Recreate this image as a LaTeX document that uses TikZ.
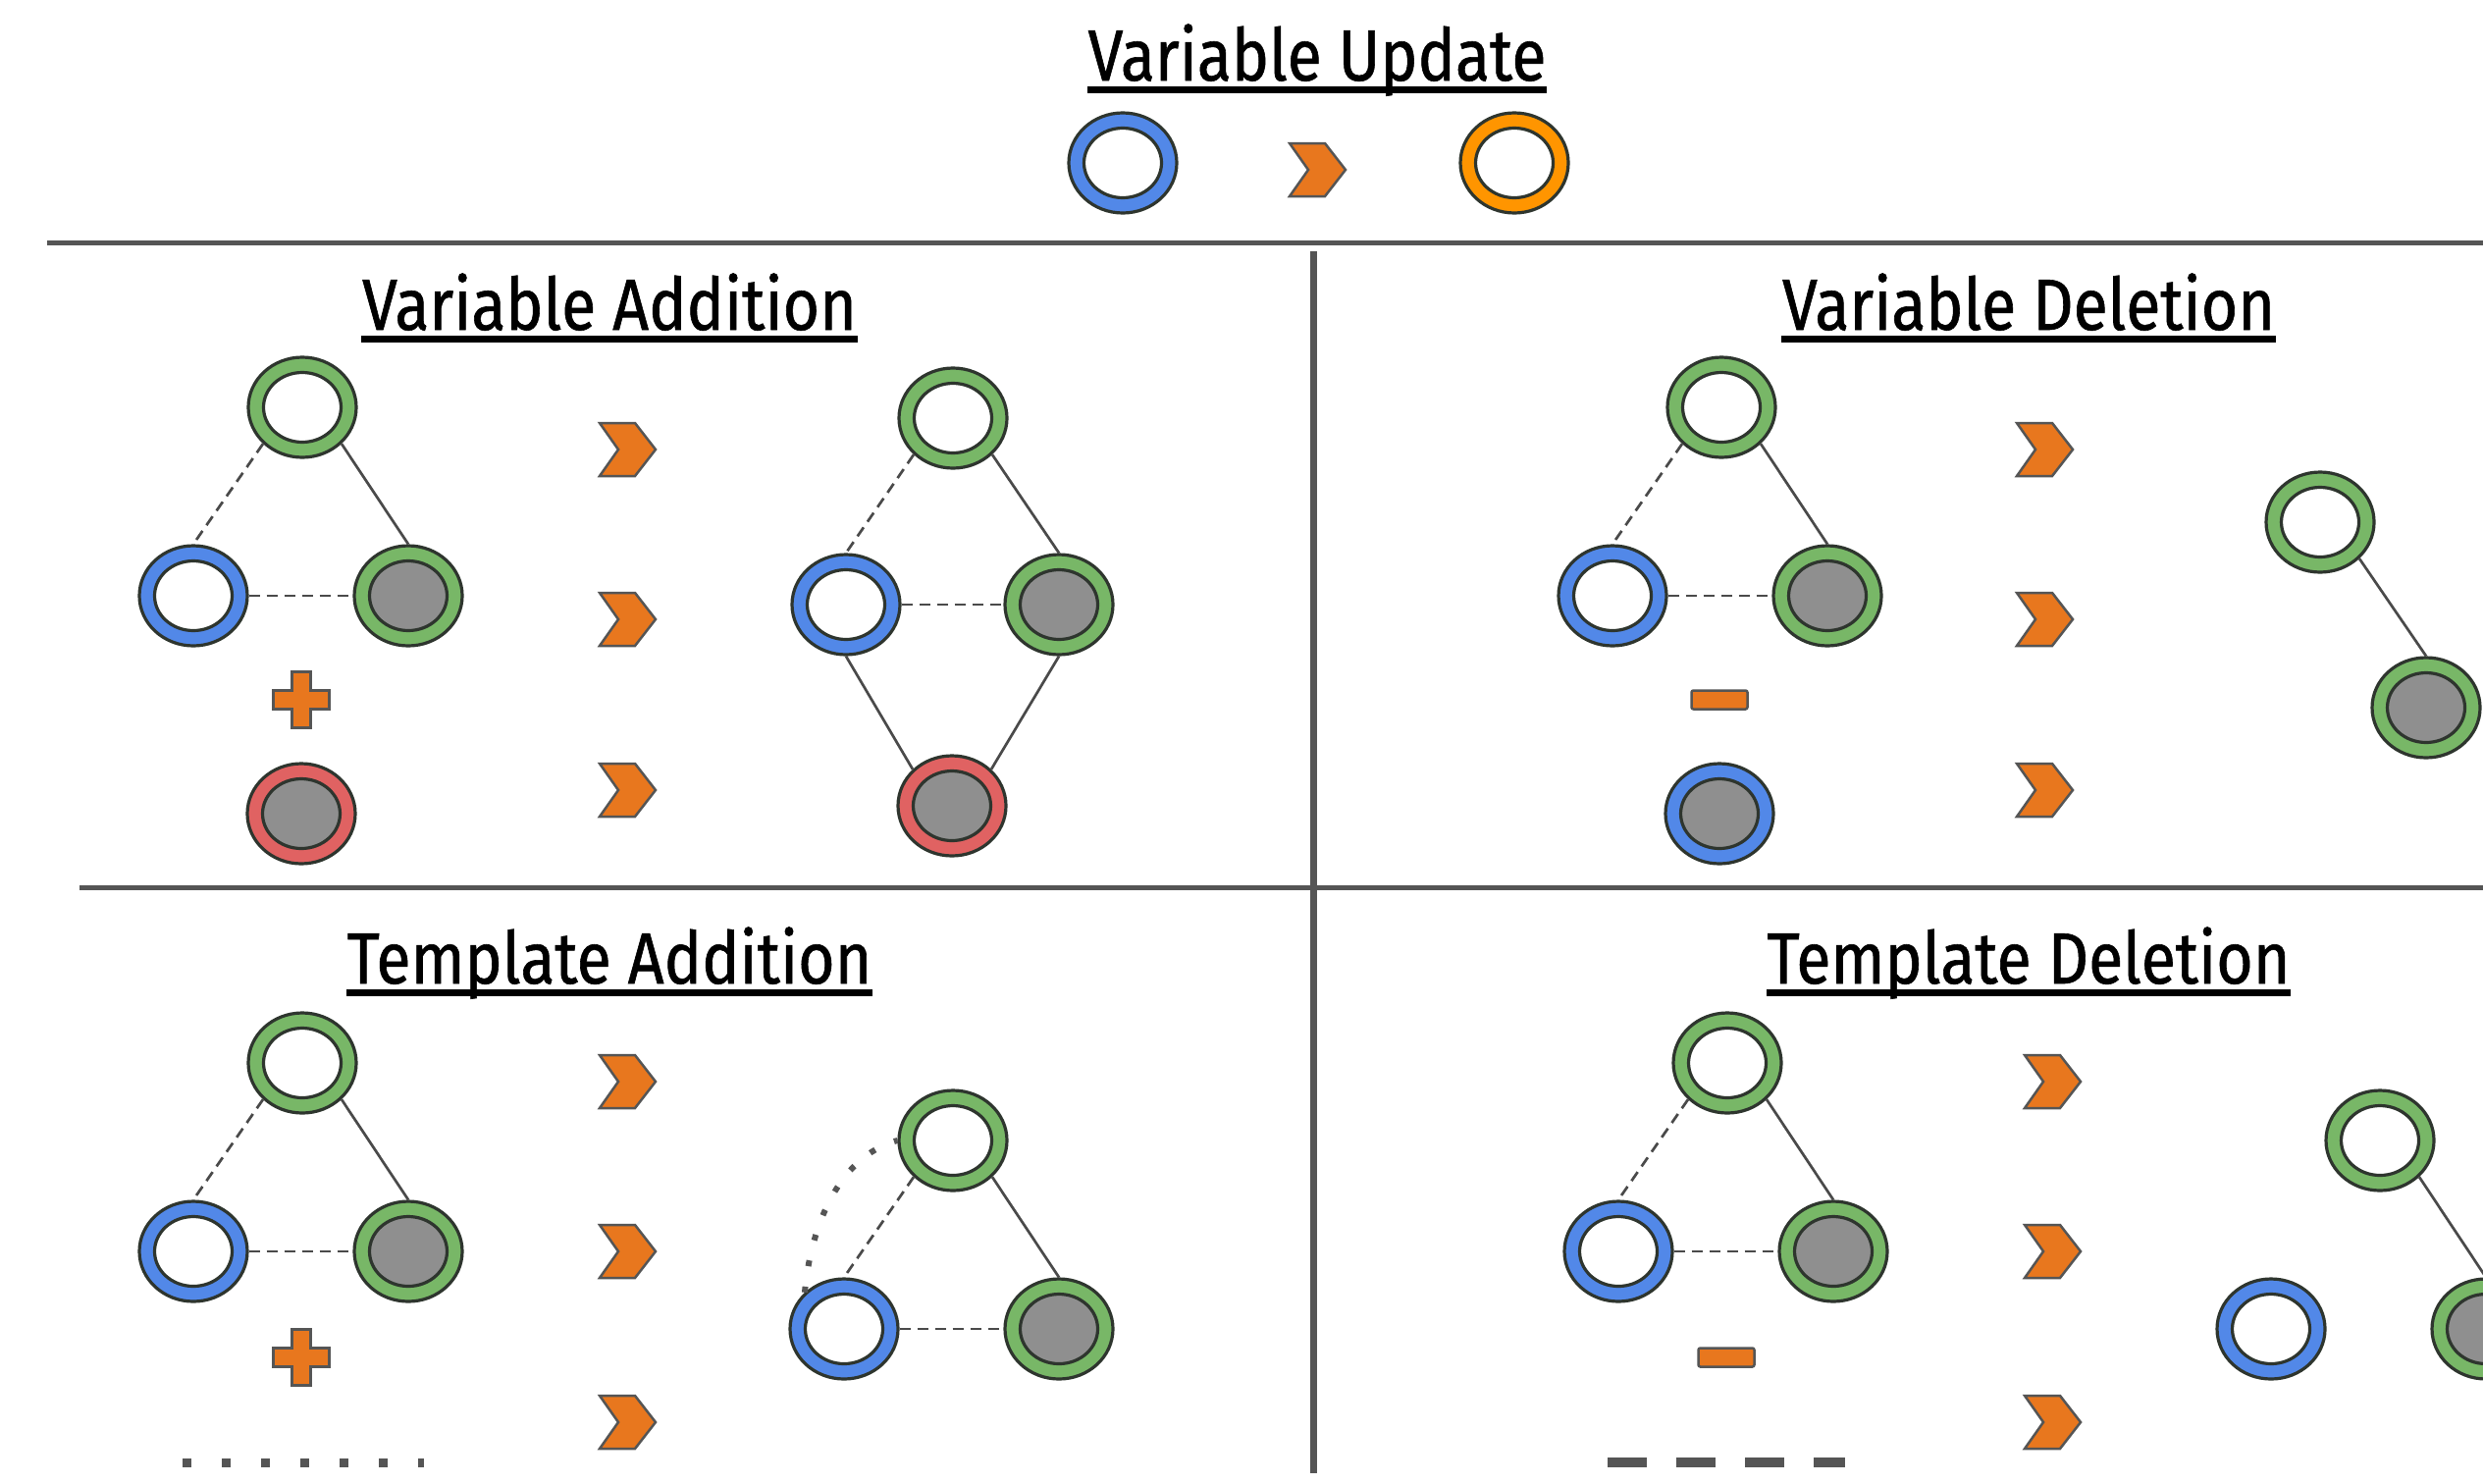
\documentclass[tikz,border=0pt]{standalone}
\usepackage{fontspec}
\setmainfont{Fira Sans}[FakeStretch=0.872, FakeBold=0.8]
\usetikzlibrary{shapes.geometric}
\definecolor{cblue}{HTML}{5288E8}
\definecolor{cgreen}{HTML}{78B767}
\definecolor{cred}{HTML}{E06262}
\definecolor{corange}{HTML}{FF9500}
\definecolor{cchev}{HTML}{E8771E}
\definecolor{cgrey}{HTML}{8F8F8F}
\definecolor{outl}{HTML}{2E352E}
\definecolor{outl2}{HTML}{555555}
\definecolor{lin}{HTML}{4A4A4A}
\definecolor{sepc}{HTML}{555555}
\begin{document}
\begin{tikzpicture}[x=0.1mm,y=0.1mm,
  innerfill/.store in=\ringinner, innerfill=white,
  ring/.style={ellipse, draw=outl, line width=0.32mm, fill=#1,
    minimum width=11mm, minimum height=10.2mm, inner sep=0pt,
    path picture={\draw[line width=0.32mm, draw=outl, fill=\ringinner]
      (path picture bounding box.center) ellipse [x radius=3.95mm, y radius=3.55mm];}},
  edge/.style={draw=lin, line width=0.27mm},
  edged/.style={edge, dash pattern=on 1.1mm off 0.7mm},
  sepline/.style={draw=sepc, line width=0.5mm},
  vsepline/.style={draw=sepc, line width=0.7mm},
  ttl/.style={inner sep=0pt, font=\fontsize{21}{25}\selectfont},
  uline/.style={draw=black, line width=0.65mm},
  chev/.pic={\draw[fill=cchev, draw=outl2, line width=0.25mm, line join=miter]
    (-28,27) -- (8,27) -- (29,0) -- (8,-27) -- (-28,-27) -- (-9,0) -- cycle;},
  plus/.pic={\draw[fill=cchev, draw=outl2, line width=0.25mm]
    (-9.5,28.5) -- (9.5,28.5) -- (9.5,9.5) -- (28.5,9.5) -- (28.5,-9.5) -- (9.5,-9.5)
    -- (9.5,-28.5) -- (-9.5,-28.5) -- (-9.5,-9.5) -- (-28.5,-9.5) -- (-28.5,9.5) -- (-9.5,9.5) -- cycle;},
  minus/.pic={\draw[fill=cchev, draw=outl2, line width=0.25mm, rounded corners=0.2mm]
    (-28.5,-9.5) rectangle (28.5,9.5);}
]
\useasboundingbox (0,0) rectangle (2530,-1511);
\clip (0,0) rectangle (2530,-1511);
\fill[white] (0,0) rectangle (2530,-1511);

% ---------- header ----------
\node[ttl, anchor=base] (t0) at (1342,-82) {Variable Update};
\draw[uline] ([yshift=-0.95mm]t0.base west) -- ([yshift=-0.95mm]t0.base east);
\node[ring=cblue] (u1) at (1144,-166) {};
\pic at (1342,-173) {chev};
\node[ring=corange] (u2) at (1543,-166) {};

% ---------- separators ----------
\coordinate (h1a) at (48,-247);   \coordinate (h1b) at (2530,-247);
\coordinate (h2a) at (81,-904);   \coordinate (h2b) at (2530,-904);
\coordinate (v1a) at (1338,-256); \coordinate (v1b) at (1338,-1501);
\draw[sepline] (h1a) -- (h1b);
\draw[sepline] (h2a) -- (h2b);
\draw[vsepline] (v1a) -- (v1b);

% ---------- titles ----------
\node[ttl, anchor=base] (t1) at (621,-336) {Variable Addition};
\draw[uline] ([yshift=-0.95mm]t1.base west) -- ([yshift=-0.95mm]t1.base east);
\node[ttl, anchor=base] (t2) at (2067,-336) {Variable Deletion};
\draw[uline] ([yshift=-0.95mm]t2.base west) -- ([yshift=-0.95mm]t2.base east);
\node[ttl, anchor=base] (t3) at (621,-1002) {Template Addition};
\draw[uline] ([yshift=-0.95mm]t3.base west) -- ([yshift=-0.95mm]t3.base east);
\node[ttl, anchor=base] (t4) at (2067,-1002) {Template Deletion};
\draw[uline] ([yshift=-0.95mm]t4.base west) -- ([yshift=-0.95mm]t4.base east);

% ---------- Variable Addition ----------
\node[ring=cgreen] (va1) at (308,-415) {};
\node[ring=cblue] (va2) at (197,-607) {};
\node[ring=cgreen, innerfill=cgrey] (va3) at (416,-607) {};
\pic at (307,-713) {plus};
\node[ring=cred, innerfill=cgrey] (va4) at (307,-829) {};
\draw[edged] (va1.south west) -- (va2.north);
\draw[edge] (va1.south east) -- (va3.north);
\draw[edged] (va2.east) -- (va3.west);
\foreach \yy in {458,631,805} \pic at (639,-\yy) {chev};
\node[ring=cgreen] (vb1) at (971,-426) {};
\node[ring=cblue] (vb2) at (862,-616) {};
\node[ring=cgreen, innerfill=cgrey] (vb3) at (1079,-616) {};
\node[ring=cred, innerfill=cgrey] (vb4) at (970,-821) {};
\draw[edged] (vb1.south west) -- (vb2.north);
\draw[edge] (vb1.south east) -- (vb3.north);
\draw[edged] (vb2.east) -- (vb3.west);
\draw[edge] (vb2.south) -- (vb4.north west);
\draw[edge] (vb3.south) -- (vb4.north east);

% ---------- Variable Deletion ----------
\node[ring=cgreen] (vc1) at (1754,-415) {};
\node[ring=cblue] (vc2) at (1643,-607) {};
\node[ring=cgreen, innerfill=cgrey] (vc3) at (1862,-607) {};
\pic at (1752,-713) {minus};
\node[ring=cblue, innerfill=cgrey] (vc4) at (1752,-829) {};
\draw[edged] (vc1.south west) -- (vc2.north);
\draw[edge] (vc1.south east) -- (vc3.north);
\draw[edged] (vc2.east) -- (vc3.west);
\foreach \yy in {458,631,805} \pic at (2083,-\yy) {chev};
\node[ring=cgreen] (vd1) at (2364,-532) {};
\node[ring=cgreen, innerfill=cgrey] (vd2) at (2472,-721) {};
\draw[edge] (vd1.south east) -- (vd2.north);

% ---------- Template Addition ----------
\node[ring=cgreen] (ta1) at (308,-1083) {};
\node[ring=cblue] (ta2) at (197,-1275) {};
\node[ring=cgreen, innerfill=cgrey] (ta3) at (416,-1275) {};
\draw[edged] (ta1.south west) -- (ta2.north);
\draw[edge] (ta1.south east) -- (ta3.north);
\draw[edged] (ta2.east) -- (ta3.west);
\pic at (307,-1383) {plus};
\coordinate (dta) at (186,-1490); \coordinate (dtb) at (432,-1490);
\draw[draw=outl2, line width=0.9mm, dash pattern=on 0.9mm off 3.1mm] (dta) -- (dtb);
\foreach \yy in {1102,1275,1449} \pic at (639,-\yy) {chev};
\node[ring=cgreen] (tb1) at (971,-1162) {};
\node[ring=cblue] (tb2) at (860,-1354) {};
\node[ring=cgreen, innerfill=cgrey] (tb3) at (1079,-1354) {};
\draw[edged] (tb1.south west) -- (tb2.north);
\draw[edge] (tb1.south east) -- (tb3.north);
\draw[edged] (tb2.east) -- (tb3.west);
\draw[draw=outl2, line width=0.6mm, dash pattern=on 0.6mm off 2.1mm]
  (tb2.north west) to[out=85, in=195, looseness=0.9] (tb1.west);

% ---------- Template Deletion ----------
\node[ring=cgreen] (tc1) at (1760,-1083) {};
\node[ring=cblue] (tc2) at (1649,-1275) {};
\node[ring=cgreen, innerfill=cgrey] (tc3) at (1868,-1275) {};
\draw[edged] (tc1.south west) -- (tc2.north);
\draw[edge] (tc1.south east) -- (tc3.north);
\draw[edged] (tc2.east) -- (tc3.west);
\pic at (1759,-1383) {minus};
\coordinate (dda) at (1638,-1490); \coordinate (ddb) at (1880,-1490);
\draw[draw=outl2, line width=1mm, dash pattern=on 4mm off 3mm] (dda) -- (ddb);
\foreach \yy in {1102,1275,1449} \pic at (2091,-\yy) {chev};
\node[ring=cgreen] (td1) at (2425,-1162) {};
\node[ring=cblue] (td2) at (2314,-1354) {};
\node[ring=cgreen, innerfill=cgrey] (td3) at (2533,-1354) {};
\draw[edge] (td1.south east) -- (td3.north);
\end{tikzpicture}
\end{document}
